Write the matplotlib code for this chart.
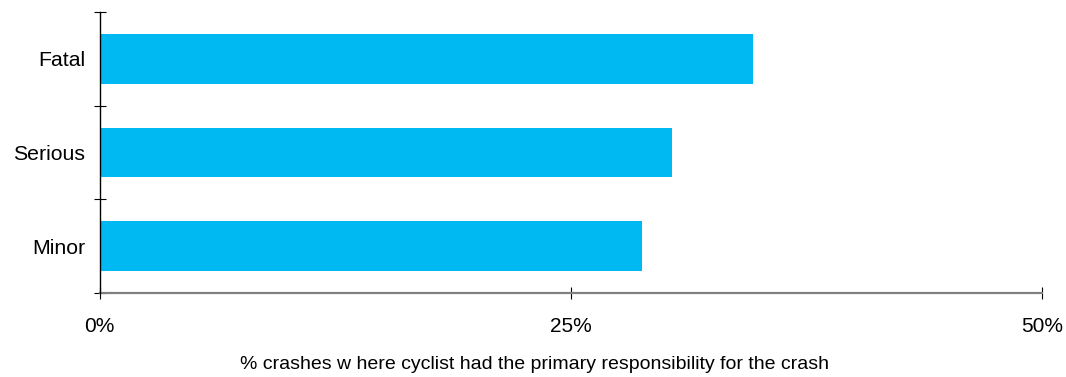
import numpy as np
import matplotlib.pyplot as plt

plt.rcParams['font.family'] = ['Liberation Sans', 'DejaVu Sans']

categories = ['Minor', 'Serious', 'Fatal']
pct_cyclist_responsible = [28.8, 30.4, 34.7]
x_ticks = [0, 25, 50]
x_tick_labels = ['0%', '25%', '50%']

fig = plt.figure(figsize=(10.66, 3.77), dpi=100)
ax = fig.add_axes([99.5 / 1066, 1 - 293 / 377, (1041.7 - 99.5) / 1066, (293 - 12) / 377])

y = np.arange(len(categories))
ax.barh(y, pct_cyclist_responsible, height=0.53, color='#00b9f2')

ax.set_xlim(0, 50)
ax.set_ylim(-0.5, len(categories) - 0.5)

# category ticks sit between the bars
ax.set_yticks(np.arange(len(categories) + 1) - 0.5)
ax.set_yticklabels([])
ax.set_yticks(y, minor=True)
ax.set_yticklabels(categories, minor=True, fontsize=15.3)
ax.tick_params(axis='y', which='major', direction='inout', length=8.5, width=0.8, color='black')
ax.tick_params(axis='y', which='minor', length=0, pad=10.5)

ax.set_xticks(x_ticks)
ax.set_xticklabels(x_tick_labels, fontsize=15)
ax.tick_params(axis='x', direction='inout', length=8, width=0.8, color='black', pad=13.5)

for side in ['top', 'right']:
    ax.spines[side].set_visible(False)
ax.spines['left'].set_color('black')
ax.spines['left'].set_linewidth(1.0)
ax.spines['bottom'].set_color('#808080')
ax.spines['bottom'].set_linewidth(1.6)
ax.spines['left'].set_zorder(3)

ax.set_xlabel('% crashes w here cyclist had the primary responsibility for the crash',
              fontsize=14)
ax.xaxis.set_label_coords(0.462, -0.224)

fig.savefig('out.png', dpi=100)
